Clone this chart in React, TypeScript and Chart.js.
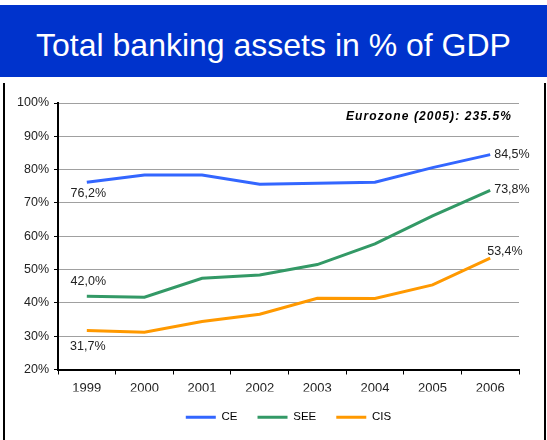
import React, { useEffect, useRef } from 'react';
import { Chart, registerables } from 'chart.js';

Chart.register(...registerables);

const titleText = 'Total banking assets in % of GDP';
const noteText = 'Eurozone (2005): 235.5%';
const categories = ['1999', '2000', '2001', '2002', '2003', '2004', '2005', '2006'];
const seriesNames = ['CE', 'SEE', 'CIS'];
const ceValues = [76.2, 78.4, 78.4, 75.6, 75.9, 76.2, 80.6, 84.5];
const seeValues = [42.0, 41.7, 47.4, 48.4, 51.5, 57.7, 66.1, 73.8];
const cisValues = [31.7, 31.2, 34.4, 36.6, 41.4, 41.3, 45.4, 53.4];
const seriesColors = ['#3366FF', '#339966', '#FF9900'];
const yMin = 20;
const yMax = 100;
const yStep = 10;

const FONT = '"Liberation Sans", Arial, Helvetica, sans-serif';

// which points get a value label, and how the label sits relative to its point
const labelSpecs = [
  { ds: 0, i: 0, dx: 1.5, dy: 11, align: 'center' },
  { ds: 1, i: 0, dx: 1.5, dy: -15, align: 'center' },
  { ds: 2, i: 0, dx: 1, dy: 16, align: 'center' },
  { ds: 0, i: 7, dx: 4, dy: 0, align: 'left' },
  { ds: 1, i: 7, dx: 4, dy: -0.5, align: 'left' },
  { ds: 2, i: 7, dx: -3, dy: -7, align: 'left' },
];

const fmt = (v: number) => v.toFixed(1).replace('.', ',') + '%';

const labelPlugin = {
  id: 'valueLabels',
  afterDatasetsDraw(chart: any) {
    const ctx = chart.ctx as CanvasRenderingContext2D;
    ctx.save();
    ctx.font = `12.5px ${FONT}`;
    ctx.fillStyle = '#222';
    ctx.textBaseline = 'middle';
    labelSpecs.forEach((s) => {
      const el = chart.getDatasetMeta(s.ds).data[s.i];
      const v = chart.data.datasets[s.ds].data[s.i] as number;
      ctx.textAlign = s.align as CanvasTextAlign;
      ctx.fillText(fmt(v), el.x + s.dx, el.y + s.dy);
    });
    ctx.font = `italic bold 12px ${FONT}`;
    (ctx as any).letterSpacing = '1.1px';
    ctx.fillStyle = '#000';
    ctx.textAlign = 'right';
    ctx.fillText(noteText, chart.chartArea.right - 7, chart.chartArea.top + 14);
    ctx.restore();
  },
};

export default function App() {
  const canvasRef = useRef<HTMLCanvasElement | null>(null);

  useEffect(() => {
    if (!canvasRef.current) return;
    const seriesValues = [ceValues, seeValues, cisValues];
    const chart = new Chart(canvasRef.current, {
      type: 'line',
      data: {
        labels: categories,
        datasets: seriesNames.map((name, k) => ({
          label: name,
          data: seriesValues[k],
          borderColor: seriesColors[k],
          backgroundColor: seriesColors[k],
          borderWidth: 3,
          pointRadius: 0,
          tension: 0,
          fill: false,
        })),
      },
      options: {
        animation: false,
        responsive: false,
        maintainAspectRatio: false,
        layout: { padding: { left: 0, right: 28, top: 103, bottom: 7 } },
        plugins: {
          title: { display: false },
          tooltip: { enabled: false },
          legend: {
            display: true,
            position: 'bottom',
            fullSize: false,
            labels: {
              usePointStyle: true,
              pointStyle: 'line',
              pointStyleWidth: 30,
              padding: 20,
              color: '#000',
              font: { size: 11.5, family: FONT },
            },
          },
        },
        scales: {
          x: {
            type: 'category',
            offset: true,
            grid: {
              offset: true,
              drawOnChartArea: false,
              drawTicks: true,
              tickLength: 5,
              color: '#000',
              lineWidth: 1,
            },
            border: { color: '#000', width: 2 },
            ticks: {
              padding: 6,
              color: '#222',
              maxRotation: 0,
              font: { size: 13, family: FONT },
            },
            afterFit: (scale: any) => {
              scale.height = 22;
            },
          },
          y: {
            min: yMin,
            max: yMax,
            grid: {
              color: '#A0A0A0',
              lineWidth: 1,
              tickColor: '#000',
              tickLength: 4,
            },
            border: { color: '#000', width: 2 },
            ticks: {
              stepSize: yStep,
              padding: 5,
              color: '#222',
              font: { size: 12.5, family: FONT },
              callback: (v: any) => `${v}%`,
            },
            afterFit: (scale: any) => {
              scale.width = 58;
            },
          },
        },
      },
      plugins: [labelPlugin],
    } as any);
    return () => chart.destroy();
  }, []);

  return (
    <div style={{ position: 'absolute', left: 0, top: 0, width: 547, height: 440, background: '#fff', overflow: 'hidden' }}>
      <div
        style={{
          position: 'absolute',
          left: 0,
          top: 5,
          width: 547,
          height: 72,
          background: '#0033CC',
          color: '#fff',
          fontFamily: FONT,
          fontSize: 32,
          lineHeight: '81px',
          textAlign: 'center',
          whiteSpace: 'nowrap',
        }}
      >
        {titleText}
      </div>
      <div style={{ position: 'absolute', left: 3, top: 83, width: 2, height: 357, background: '#000' }} />
      <div style={{ position: 'absolute', left: 544, top: 83, width: 2, height: 357, background: '#000' }} />
      <canvas
        ref={canvasRef}
        width={547}
        height={440}
        style={{ position: 'absolute', left: 0, top: 0, width: 547, height: 440, display: 'block' }}
      />
    </div>
  );
}
